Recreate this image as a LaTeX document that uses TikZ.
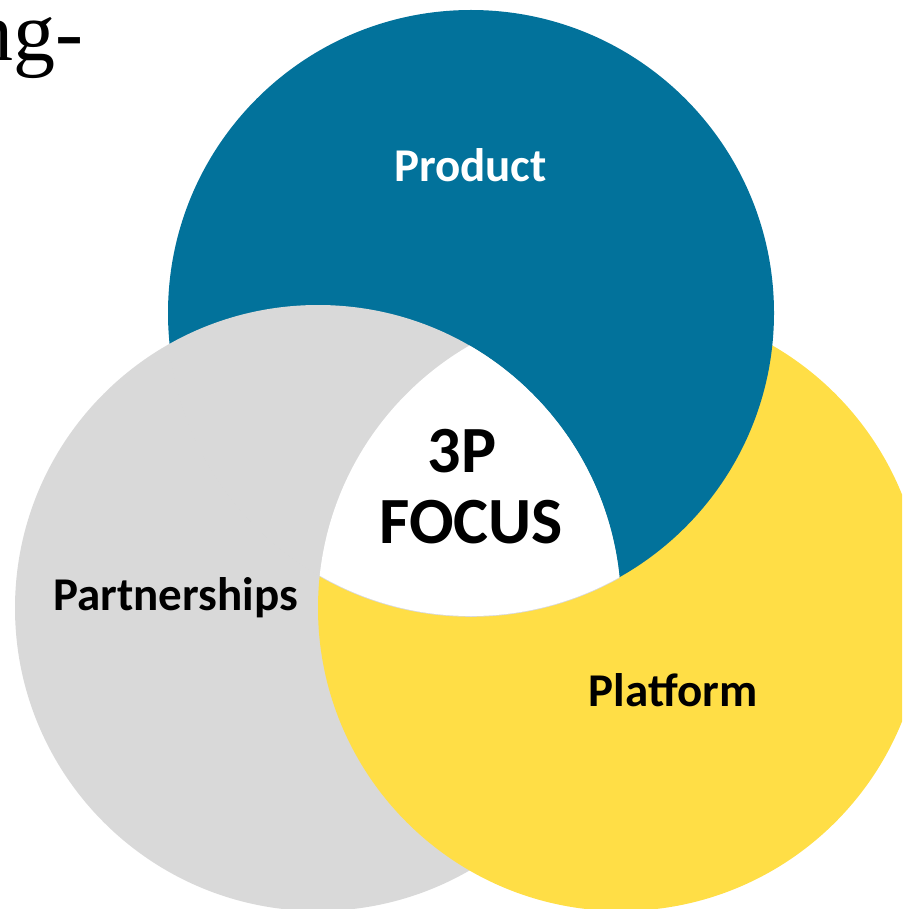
\documentclass[tikz,border=0pt]{standalone}
\usepackage{fontspec}
\setmainfont{Liberation Serif}
\newfontfamily\labfont{Carlito}
\definecolor{pblue}{RGB}{2,114,155}
\definecolor{pgray}{RGB}{217,217,217}
\definecolor{pyellow}{RGB}{255,222,70}
\begin{document}
\begin{tikzpicture}[x=1pt,y=-1pt,
  lab/.style={font=\labfont\bfseries\fontsize{47}{52}\selectfont, inner sep=0pt, anchor=base},
  big/.style={font=\labfont\bfseries\fontsize{66}{71}\selectfont, inner sep=0pt, anchor=base}]
\useasboundingbox (0,0) rectangle (902,909);
\clip (0,0) rectangle (902,909);
\fill[pgray] (318,608) circle[radius=303];
\fill[pyellow] (621,608) circle[radius=303];
\fill[pblue] (471,313) circle[radius=303];
\begin{scope}
  \clip (471,313) circle[radius=303.8];
  \fill[pgray] (318,608) circle[radius=303];
\end{scope}
\begin{scope}
  \clip (471,313) circle[radius=303];
  \clip (318,608) circle[radius=303];
  \fill[white] (621,608) circle[radius=303];
\end{scope}
\node[font=\fontsize{84}{90}\selectfont, inner sep=0pt, anchor=base east] (frag) at (84,61) {ng-};
\node[lab, text=white] (product) at (470.5,182) {Product};
\node[big] (threep) at (462,472) {3P};
\node[big] (focus) at (471,543) {FOCUS};
\node[lab] (partner) at (175.5,610) {Partnerships};
\node[lab] (platform) at (673,706) {Platform};
\end{tikzpicture}
\end{document}
